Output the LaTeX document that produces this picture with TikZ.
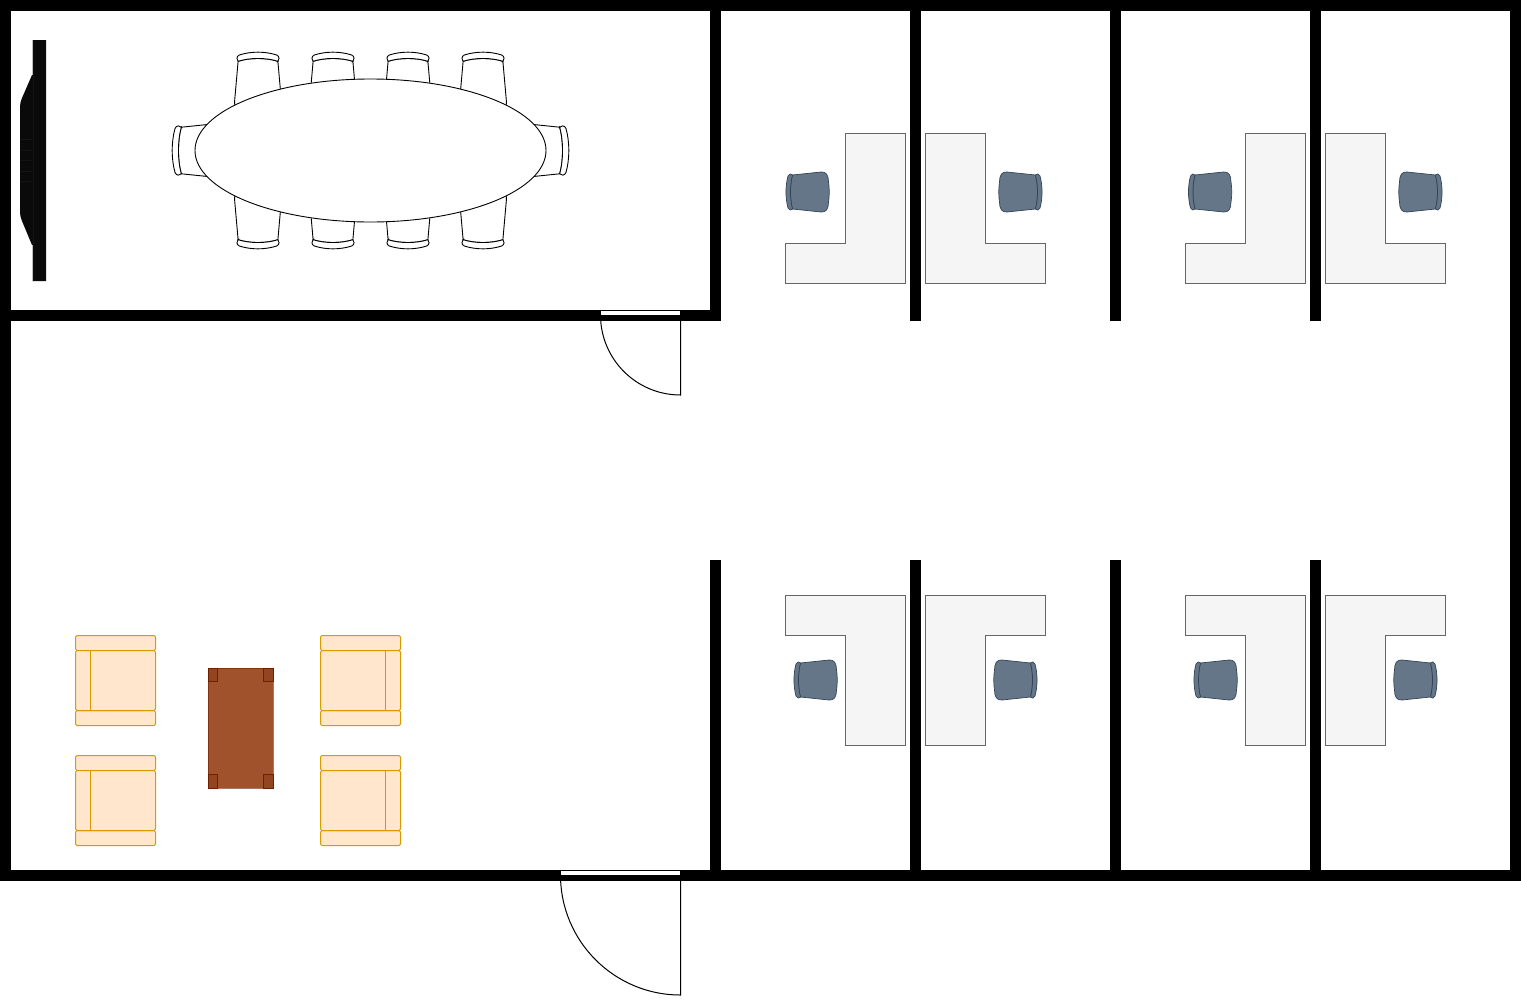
\documentclass[tikz,border=0pt]{standalone}
\usepackage{tikz}
\definecolor{slatefill}{HTML}{647687}
\definecolor{slateline}{HTML}{314354}
\definecolor{sofafill}{HTML}{FFE6CC}
\definecolor{sofaline}{HTML}{D79B00}
\definecolor{woodfill}{HTML}{A0522D}
\definecolor{woodline}{HTML}{6D1F00}
\definecolor{deskfill}{HTML}{F5F5F5}
\definecolor{deskline}{HTML}{666666}
\definecolor{screenfill}{HTML}{0A0A0A}

\begin{document}
\begin{tikzpicture}[
  x=1pt,y=-1pt,line width=1pt,
  wall/.style={fill=black,draw=none},
  gap/.style={fill=white,draw=none},
  door/.style={draw=black,line width=1pt},
  desk/.style={draw=deskline,fill=deskfill,line width=0.9pt},
  officeseat/.style={draw=slateline,fill=slatefill,line width=0.7pt},
  meetseat/.style={draw=black,fill=white,line width=0.9pt},
  sofa/.style={draw=sofaline,fill=sofafill,line width=1pt,rounded corners=1.5pt},
  wood/.style={draw=woodline,draw opacity=0.6,fill=woodfill,line width=0.8pt},
  woodleg/.style={draw=woodline,fill=woodline,fill opacity=0.25,line width=0.9pt},
  chair/.pic={
    \path[pic actions] (-15.5,-17) -- (13,-20) .. controls (18,-20.5) and (20.5,-17) .. (20.5,-10)
      .. controls (21.5,-4) and (21.5,4) .. (20.5,10) .. controls (20.5,17) and (18,20.5) .. (13,20)
      -- (-15.5,17) .. controls (-18.2,7) and (-18.2,-7) .. cycle;
    \path[pic actions] (-15.5,-17) .. controls (-16.5,-18.5) and (-19,-18.5) .. (-20,-16)
      .. controls (-22.7,-6) and (-22.7,6) .. (-20,16) .. controls (-19,18.5) and (-16.5,18.5) .. (-15.5,17)
      .. controls (-18.2,7) and (-18.2,-7) .. cycle;
  },
  armchair/.pic={
    \path[pic actions] (-40,-45) rectangle (40,-30);
    \path[pic actions] (-40,30) rectangle (40,45);
    \path[pic actions] (-40,-30) rectangle (40,30);
    \draw[draw=sofaline,line width=1pt] (-25,-30) -- (-25,30);
  }
]
\useasboundingbox (0,0) rectangle (1521,999);
\fill[white] (0,0) rectangle (1521,999);

% meeting room
\fill[screenfill] (32,40) -- (46,40) -- (46,281) -- (32,281) -- (32,245)
  -- (22,221) .. controls (20.5,217) and (20,215) .. (20,212) -- (20,107)
  .. controls (20,104) and (20.5,102) .. (22,98) -- (32,75) -- cycle;
\draw[black!25,line width=0.5pt] (32.5,40) -- (32.5,75);
\draw[black!25,line width=0.5pt] (32.5,245) -- (32.5,281);
\draw[white!8!black,line width=0.5pt] (33.5,75) -- (33.5,245);
\foreach \ly in {139,150,160,171,181}
  \draw[white!8!black,line width=0.5pt] (21,\ly) -- (32,\ly);

\foreach \cx in {258,333,408,483} {
  \pic[meetseat,rotate=-90,xscale=1.4,yscale=1.17] at (\cx,83) {chair};
  \pic[meetseat,rotate=90,xscale=1.4,yscale=1.17] at (\cx,218) {chair};
}
\pic[meetseat,xscale=1.4,yscale=1.37] at (203,150.5) {chair};
\pic[meetseat,xscale=-1.4,yscale=1.37] at (538,150.5) {chair};
\draw[draw=black,fill=white,line width=0.9pt] (370.5,150.5) ellipse [x radius=175.5,y radius=71.5];

% desks and chairs
\foreach \dx in {0,400} {
  \draw[desk] (845+\dx,133) -- (905+\dx,133) -- (905+\dx,283) -- (785+\dx,283) -- (785+\dx,243) -- (845+\dx,243) -- cycle;
  \draw[desk] (925+\dx,133) -- (985+\dx,133) -- (985+\dx,243) -- (1045+\dx,243) -- (1045+\dx,283) -- (925+\dx,283) -- cycle;
  \draw[desk] (785+\dx,595) -- (905+\dx,595) -- (905+\dx,745) -- (845+\dx,745) -- (845+\dx,635) -- (785+\dx,635) -- cycle;
  \draw[desk] (925+\dx,595) -- (1045+\dx,595) -- (1045+\dx,635) -- (985+\dx,635) -- (985+\dx,745) -- (925+\dx,745) -- cycle;
}
\pic[officeseat] at (808,192) {chair};
\pic[officeseat,xscale=-1] at (1020,192) {chair};
\pic[officeseat] at (1210.5,192) {chair};
\pic[officeseat,xscale=-1] at (1420,192) {chair};
\pic[officeseat] at (816,680) {chair};
\pic[officeseat,xscale=-1] at (1015,680) {chair};
\pic[officeseat] at (1216,680) {chair};
\pic[officeseat,xscale=-1] at (1415,680) {chair};

% lounge
\pic[sofa] at (115.5,680.5) {armchair};
\pic[sofa] at (115.5,800.5) {armchair};
\pic[sofa,xscale=-1] at (360.5,680.5) {armchair};
\pic[sofa,xscale=-1] at (360.5,800.5) {armchair};
\draw[wood] (208,668) rectangle (273,788);
\foreach \lx/\ly in {208/668,263.5/668,208/774.5,263.5/774.5}
  \draw[woodleg] (\lx,\ly) rectangle +(9.5,13.5);

% walls
\fill[wall] (0,0) rectangle (1521,11);
\fill[wall] (0,0) rectangle (11,881);
\fill[wall] (1510,0) rectangle (1521,881);
\fill[wall] (0,870) rectangle (1521,881);
\fill[wall] (0,310) rectangle (721,321);
\fill[wall] (710,0) rectangle (721,321);
\foreach \wx in {910,1110,1310}
  \fill[wall] (\wx,0) rectangle (\wx+11,321);
\foreach \wx in {710,910,1110,1310}
  \fill[wall] (\wx,560) rectangle (\wx+11,881);

% doors
\fill[gap] (601,311) rectangle (680,315);
\fill[gap] (561,871) rectangle (680,875);
\draw[door] (600.5,315) arc [start angle=180,end angle=270,radius=80pt] -- (680.5,315);
\draw[door] (560.5,875) arc [start angle=180,end angle=270,radius=120pt] -- (680.5,875);
\end{tikzpicture}
\end{document}
